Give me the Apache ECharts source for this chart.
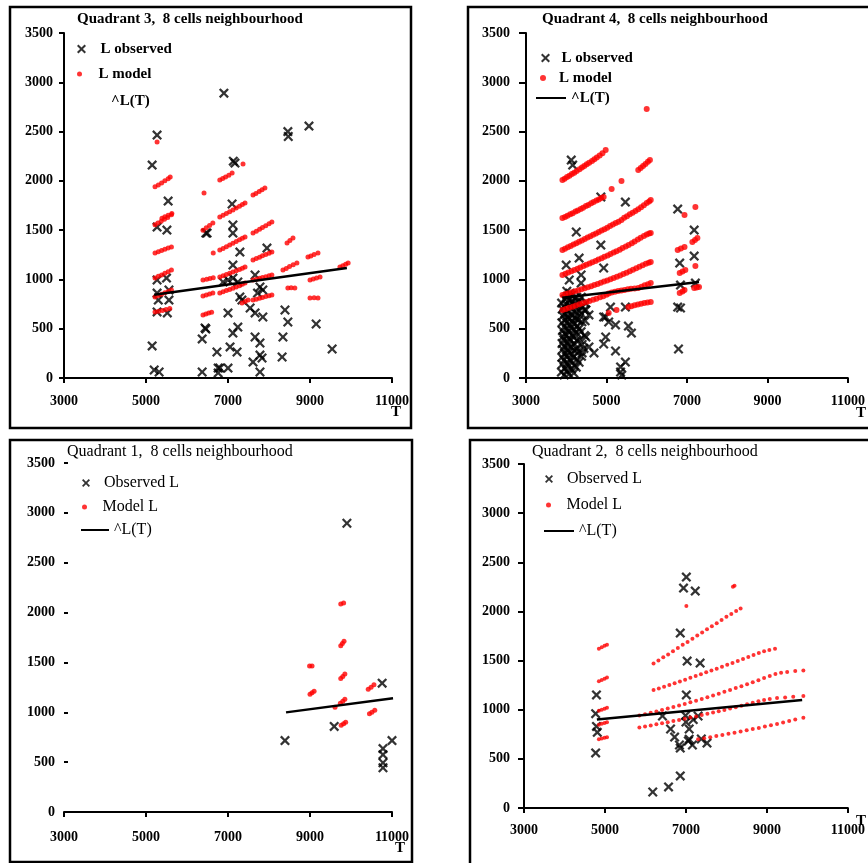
<!DOCTYPE html>
<html><head><meta charset="utf-8">
<script src="https://cdn.jsdelivr.net/npm/echarts/dist/echarts.min.js"></script>
<style>html,body{margin:0;padding:0;background:#fff}#c{width:868px;height:863px}</style>
</head><body><div id="c"></div>
<script>
// ---------------- DATA ----------------
const xTicks = [3000, 5000, 7000, 9000, 11000];
const yTicks = [0, 500, 1000, 1500, 2000, 2500, 3000, 3500];

// Quadrant 3 (top-left)
const q3Observed = [[5270,2464],[5150,2160],[5540,1795],[6900,2890],[8460,2500],[8470,2450],[8975,2556],[7130,2200],[7170,2180],[7100,1765],[5270,1531],[5510,1501],[6460,1470],[5270,994],[5500,1014],[5270,862],[5560,893],[5300,791],[5560,791],[5270,670],[5520,660],[5150,325],[5200,81],[5320,61],[6370,61],[6460,497],[6370,396],[6730,264],[6760,101],[7120,1552],[6490,1470],[7120,1470],[7290,1278],[7950,1318],[7120,1146],[7660,1045],[6880,974],[7000,994],[7120,1014],[7240,974],[7780,923],[7850,893],[7720,862],[7290,822],[7340,791],[7540,710],[7000,660],[7660,660],[7850,619],[8390,690],[8460,568],[9150,548],[6440,507],[7240,517],[7120,456],[7660,416],[7780,355],[8340,416],[7050,315],[7220,264],[9540,294],[7780,233],[7610,162],[7830,203],[8320,213],[6800,101],[7000,101],[6760,51],[7780,61]];
const q3Model = [[5270,2393],
[5220,1940],[5300,1958],[5380,1978],[5460,2000],[5540,2022],[5590,2040],
[5390,1620],[5460,1636],[5540,1652],[5630,1670],
[5220,1555],[5290,1572],[5370,1590],[5450,1610],[5530,1628],[5620,1655],
[5220,1268],[5300,1281],[5380,1293],[5460,1305],[5540,1318],[5620,1330],
[5220,1015],[5300,1031],[5380,1046],[5460,1062],[5540,1078],[5620,1095],
[5220,822],[5300,836],[5380,850],[5460,864],[5540,878],[5620,893],
[5220,670],[5310,678],[5400,686],[5490,695],[5580,706],
[6415,1876],
[6800,2008],[6870,2025],[6940,2040],[7020,2058],[7100,2079],[7366,2170],
[6390,1500],[6470,1524],[6550,1548],[6630,1572],
[6640,1268],
[6390,994],[6480,1002],[6560,1010],[6640,1016],
[6390,832],[6470,843],[6550,853],[6630,863],
[6390,640],[6460,650],[6530,660],[6600,668],
[6800,1633],[6880,1650],[6960,1668],[7040,1686],[7120,1705],[7200,1724],[7280,1742],[7350,1760],[7415,1775],
[6800,1298],[6880,1315],[6960,1332],[7040,1350],[7120,1368],[7200,1385],[7280,1402],[7350,1418],[7415,1430],
[6800,1024],[6880,1037],[6960,1050],[7040,1062],[7120,1075],[7200,1088],[7280,1100],[7350,1114],[7415,1126],
[6800,862],[6880,874],[6960,887],[7040,899],[7120,911],[7200,923],[7280,936],[7350,950],[7415,963],
[7340,760],[7420,776],[7490,791],
[7610,1856],[7680,1873],[7760,1892],[7830,1910],[7900,1927],
[7610,1470],[7690,1490],[7770,1508],[7840,1527],[7920,1545],[8000,1564],[8070,1582],
[7610,1197],[7690,1212],[7770,1226],[7840,1240],[7920,1252],[8000,1266],[8070,1278],
[7610,994],[7690,1003],[7770,1012],[7840,1020],[7920,1028],[8000,1037],[8070,1045],
[7610,791],[7690,800],[7770,808],[7840,817],[7920,826],[8000,834],[8070,842],
[8440,1369],[8510,1394],[8585,1420],
[8340,1095],[8420,1112],[8500,1130],[8590,1148],[8680,1166],
[8460,913],[8540,915],[8630,913],
[8950,1227],[9020,1238],[9100,1252],[9195,1268],
[9000,994],[9080,1004],[9160,1014],[9245,1024],
[9000,811],[9100,813],[9195,811],
[9730,1126],[9800,1140],[9870,1153],[9930,1166]];
const q3Fit = [[5200,845],[9900,1115]];

// Quadrant 4 (top-right)
const q4Observed = [[4125,2211],[4160,2160],[4860,1836],[5470,1785],[6770,1714],[4250,1481],[4860,1349],[4000,1146],[4320,1217],[4930,1116],[4075,994],[4370,1045],[4370,963],[5470,720],[5100,720],[4980,619],[5055,568],[5225,538],[5545,527],[5620,456],[4980,416],[4490,416],[4930,345],[4565,315],[4690,254],[5225,274],[4395,254],[5470,162],[5350,112],[5350,61],[5380,30],[7180,1501],[6820,1166],[7180,1237],[6840,943],[7210,963],[6770,720],[6840,710],[6790,294],[4490,690],[4565,640],[4930,619],
[3880,60],[3900,140],[3890,210],[3910,290],[3895,350],[3920,420],[3905,480],[3890,560],[3915,630],[3900,700],[3885,760],
[3950,30],[3960,100],[3945,180],[3970,250],[3955,320],[3940,390],[3965,450],[3950,520],[3975,590],[3960,650],[3945,720],[3970,800],
[4010,70],[4020,150],[4000,220],[4030,290],[4015,360],[4005,430],[4025,500],[4010,560],[4035,620],[4020,690],[4000,750],[4030,830],[4015,880],
[4070,40],[4060,120],[4085,190],[4070,260],[4055,330],[4080,400],[4065,470],[4090,540],[4075,600],[4060,660],[4085,730],[4070,790],[4090,860],
[4130,90],[4120,170],[4145,240],[4130,310],[4115,380],[4140,440],[4125,510],[4150,580],[4135,640],[4120,710],[4145,770],[4130,840],
[4190,50],[4200,130],[4180,210],[4205,280],[4190,350],[4175,420],[4200,490],[4185,550],[4210,610],[4195,680],[4180,750],[4205,810],
[4250,110],[4265,190],[4245,300],[4260,380],[4250,460],[4270,530],[4255,600],[4245,670],[4270,740],[4260,820],
[4320,160],[4310,270],[4335,390],[4320,500],[4305,590],[4330,680],[4315,780],
[4380,220],[4395,340],[4370,470],[4390,570],[4380,650],[4400,720],[4375,820],
[4440,300],[4455,430],[4470,580],[4450,690],[4480,760]];
const q4Model = [
[3905,2008],[3960,2022],[4020,2038],[4080,2052],[4140,2070],[4200,2083],[4260,2101],[4330,2118],[4390,2135],[4450,2150],[4510,2168],[4570,2184],[4640,2201],[4700,2220],[4760,2238],[4830,2256],[4900,2281],[4980,2312],
[3905,1623],[3970,1633],[4030,1647],[4100,1660],[4160,1672],[4230,1688],[4290,1700],[4360,1715],[4420,1728],[4490,1744],[4550,1756],[4620,1772],[4680,1785],[4750,1800],[4810,1812],[4870,1825],[4930,1836],[5128,1917],[5373,1998],[5790,2110],[5850,2130],[5910,2150],[5970,2172],[6030,2195],[6080,2211],[6000,2728],
[3905,1298],[3970,1311],[4040,1326],[4110,1339],[4180,1354],[4250,1368],[4320,1382],[4390,1396],[4460,1410],[4530,1425],[4600,1438],[4670,1452],[4740,1467],[4810,1481],[4880,1496],[4950,1510],[5020,1525],[5090,1541],[5160,1556],[5230,1572],[5300,1586],[5373,1602],[5440,1625],[5510,1642],[5580,1660],[5650,1676],[5720,1694],[5790,1712],[5860,1732],[5930,1752],[6000,1775],[6060,1790],[6100,1805],
[3905,1045],[3980,1058],[4050,1070],[4130,1083],[4200,1096],[4280,1109],[4350,1122],[4430,1135],[4500,1148],[4580,1161],[4650,1174],[4730,1188],[4800,1201],[4880,1215],[4950,1229],[5030,1243],[5100,1257],[5180,1272],[5250,1287],[5330,1302],[5400,1318],[5480,1334],[5550,1350],[5630,1368],[5700,1385],[5780,1404],[5850,1422],[5930,1440],[6000,1456],[6060,1466],[6100,1470],
[3905,842],[3980,851],[4060,861],[4140,870],[4220,880],[4300,890],[4380,900],[4460,910],[4540,921],[4620,932],[4700,943],[4780,954],[4860,966],[4940,978],[5020,990],[5100,1002],[5180,1015],[5260,1028],[5340,1041],[5420,1055],[5500,1069],[5580,1083],[5660,1098],[5740,1113],[5820,1128],[5900,1144],[5980,1160],[6050,1170],[6100,1177],
[3905,690],[3990,701],[4070,712],[4160,724],[4240,735],[4330,747],[4410,758],[4500,770],[4580,781],[4670,794],[4750,805],[4840,818],[4920,830],[5000,845],[5055,858],[5130,868],[5210,875],[5290,882],[5370,888],[5450,894],[5530,900],[5610,905],[5700,909],[5790,913],[5870,926],[5950,940],[6030,952],[6100,963],
[5055,660],[5250,690],[5545,720],[5620,728],[5700,737],[5780,745],[5860,752],[5940,760],[6020,766],[6100,771],
[6940,1653],[7210,1734],
[6770,1298],[6850,1313],[6940,1329],[7135,1379],[7200,1400],[7260,1420],
[6820,1065],[6890,1080],[6960,1095],[7210,1136],
[6820,862],[6890,878],[6940,893],[7180,913],[7240,918],[7300,923]];
const q4Fit = [[3900,815],[7300,975]];

// Quadrant 1 (bottom-left)
const q1Observed = [[9900,2896],[10760,1292],[9590,858],[8390,716],[11000,716],[10780,636],[10780,575],[10780,494],[10780,444]];
const q1Model = [[9750,2085],[9820,2095],[9750,1668],[9790,1690],[9830,1712],[8990,1463],[9050,1463],[9750,1340],[9800,1360],[9850,1385],[9000,1180],[9050,1195],[9100,1210],[10420,1231],[10490,1250],[10560,1275],[9610,1050],[9740,1090],[9800,1110],[9850,1130],[10450,985],[10510,1000],[10580,1020],[9760,870],[9820,885],[9870,900]];
const q1Fit = [[8415,999],[11025,1140]];

// Quadrant 2 (bottom-right)
const q2Observed = [[7010,2350],[6940,2238],[7230,2207],[6860,1780],[7030,1495],[7350,1475],[7010,1150],[4790,1150],[4770,960],[4790,830],[4810,770],[4770,560],[6420,936],[6620,804],[6720,722],[6840,641],[7060,682],[7160,641],[7380,702],[7520,661],[7300,936],[7080,804],[6860,610],[6860,326],[6570,214],[6180,163],[7000,875],[7180,900],[6990,940],[7080,700]];
const q2Model = [
[4850,1620],[4920,1635],[4990,1650],[5050,1662],
[4850,1290],[4920,1303],[4990,1316],[5050,1328],
[4850,990],[4920,1000],[4990,1010],[5050,1020],
[4850,848],[4920,856],[4990,864],[5050,872],
[4850,700],[4920,707],[4990,714],[5050,720],
[7010,2055],[8160,2250],[8200,2262],
[6200,1470],[6320,1500],[6440,1533],[6560,1562],[6680,1595],[6800,1627],[6920,1660],[7040,1690],[7160,1722],[7280,1755],[7400,1786],[7520,1818],[7640,1850],[7760,1880],[7880,1913],[8000,1945],[8120,1975],[8240,2005],[8350,2030],
[6200,1200],[6330,1217],[6460,1234],[6590,1252],[6720,1270],[6850,1288],[6980,1306],[7110,1324],[7240,1343],[7370,1361],[7500,1380],[7630,1398],[7760,1418],[7890,1437],[8020,1457],[8150,1476],[8280,1496],[8410,1516],[8540,1536],[8670,1556],[8800,1576],[8930,1596],[9060,1608],[9200,1620],
[5850,940],[5990,954],[6130,968],[6270,982],[6410,997],[6550,1012],[6690,1027],[6830,1043],[6970,1059],[7110,1075],[7250,1092],[7390,1109],[7530,1127],[7670,1145],[7810,1163],[7950,1182],[8090,1201],[8230,1220],[8370,1240],[8510,1260],[8650,1280],[8790,1301],[8930,1322],[9070,1343],[9210,1364],[9350,1375],[9500,1384],[9700,1393],[9900,1400],
[5850,820],[5990,830],[6130,840],[6270,851],[6410,862],[6550,873],[6690,884],[6830,896],[6970,908],[7110,920],[7250,932],[7390,945],[7530,958],[7670,971],[7810,984],[7950,998],[8090,1012],[8230,1026],[8370,1040],[8510,1055],[8650,1070],[8790,1085],[8930,1100],[9070,1110],[9250,1118],[9450,1125],[9650,1132],[9900,1140],
[7300,700],[7450,710],[7600,721],[7750,732],[7900,743],[8050,755],[8200,766],[8350,778],[8500,790],[8650,803],[8800,815],[8950,828],[9100,841],[9250,855],[9400,870],[9550,885],[9700,900],[9900,918]];
const q2Fit = [[4800,900],[9870,1100]];

const titles = ['Quadrant 3,  8 cells neighbourhood','Quadrant 4,  8 cells neighbourhood','Quadrant 1,  8 cells neighbourhood','Quadrant 2,  8 cells neighbourhood'];
const obsNames = ['L observed','L observed','Observed L','Observed L'];
const modNames = ['L model','L model','Model L','Model L'];
const fitName = '^L(T)';
const axisName = 'T';

// ---------------- LAYOUT ----------------
const FONT = '"Liberation Serif","Times New Roman",serif';
const CROSS = 'path://M0,1.6L1.6,0L5,3.4L8.4,0L10,1.6L6.6,5L10,8.4L8.4,10L5,6.6L1.6,10L0,8.4L3.4,5Z';
const panels = [
  {grid:{left:64,top:33,width:328,height:345}, frame:[10,7,401,421], title:[77,12], tw:'bold', tf:15,
   yShow:true, yMargin:11, yTick:5, xMargin:16, obs:q3Observed, mod:q3Model, fit:q3Fit, modSym:'circle', modSize:5,
   leg:[[77,49,28,9],[77,74,28,5],[77,101,28,14]], legFont:[15,'bold'], hideLegLine:true, T:[396,412]},
  {grid:{left:526,top:33,width:327,height:345}, frame:[468,7,430,421], title:[542,12], tw:'bold', tf:15,
   yShow:true, yMargin:16, yTick:7, xMargin:16, obs:q4Observed, mod:q4Model, fit:q4Fit, modSym:'circle', modSize:6,
   leg:[[541,58,22,9],[540,78,22,6],[535,98,30,14]], legFont:[15,'bold'], hideLegLine:false, T:[861,413]},
  {grid:{left:64,top:463,width:328,height:349}, frame:[10,440,402,422], title:[67,444], tw:'normal', tf:16,
   yShow:false, yMargin:9, yTick:4, xMargin:18, obs:q1Observed, mod:q1Model, fit:q1Fit, modSym:'circle', modSize:5,
   leg:[[82,483,26,8],[82,507,26,5],[80,530,28,14]], legFont:[16,'normal'], hideLegLine:false, T:[400,848]},
  {grid:{left:524,top:464,width:327,height:344}, frame:[470,440,430,440], title:[532,444], tw:'normal', tf:16,
   yShow:true, yMargin:14, yTick:6, xMargin:15, obs:q2Observed, mod:q2Model, fit:q2Fit, modSym:'circle', modSize:4,
   leg:[[545,479,26,8],[546,505,26,5],[543,531,30,14]], legFont:[16,'normal'], hideLegLine:false, T:[861,821]}
];

const grids=[], xAxes=[], yAxes=[], series=[], legends=[], titleArr=[], graphics=[];
panels.forEach((p,i)=>{
  grids.push(Object.assign({containLabel:false}, p.grid));
  const lbl = {color:'#000', fontFamily:FONT, fontSize:14, fontWeight:'bold', formatter:(v)=>String(v)};
  xAxes.push({gridIndex:i, type:'value', min:xTicks[0], max:xTicks[xTicks.length-1], interval:xTicks[1]-xTicks[0],
    axisLine:{show:true, onZero:false, lineStyle:{color:'#000', width:2}},
    axisTick:{show:true, length:5, lineStyle:{color:'#000', width:2}},
    axisLabel:Object.assign({margin:p.xMargin}, lbl), splitLine:{show:false}});
  yAxes.push({gridIndex:i, type:'value', min:yTicks[0], max:yTicks[yTicks.length-1], interval:yTicks[1]-yTicks[0],
    axisLine:{show:p.yShow, onZero:false, lineStyle:{color:'#000', width:2}},
    axisTick:{show:true, inside:!p.yShow, length:p.yTick, lineStyle:{color:'#000', width:2}},
    axisLabel:Object.assign({margin:p.yMargin}, lbl), splitLine:{show:false}});
  series.push({name:obsNames[i], type:'scatter', xAxisIndex:i, yAxisIndex:i, data:p.obs, symbol:CROSS, symbolSize:10,
    itemStyle:{color:'#000'}, z:2});
  series.push({name:modNames[i], type:'scatter', xAxisIndex:i, yAxisIndex:i, data:p.mod, symbol:p.modSym, symbolSize:p.modSize,
    itemStyle:{color:'#ff0000'}, z:3});
  series.push({name:fitName, type:'line', xAxisIndex:i, yAxisIndex:i, data:p.fit, symbol:'none', showSymbol:false,
    itemStyle:{color:'#000'}, lineStyle:{color:'#000', width:2.5}, z:4});
  titleArr.push({text:titles[i], left:p.title[0], top:p.title[1], padding:0,
    textStyle:{fontFamily:FONT, fontSize:p.tf, fontWeight:p.tw, color:'#000'}});
  const names=[obsNames[i], modNames[i], fitName];
  names.forEach((n,k)=>{
    const [l,cy,w,h]=p.leg[k];
    const fs=p.legFont[0];
    let d = n;
    if(k===2) d = p.hideLegLine
      ? {name:n, itemStyle:{opacity:0}, lineStyle:{opacity:0, color:'rgba(0,0,0,0)'}}
      : {name:n, itemStyle:{opacity:0}, lineStyle:{color:'#000', width:2}};
    legends.push({data:[d], left:l, top:cy-Math.max(h,fs)/2, itemWidth:w, itemHeight:h, padding:0, itemGap:0,
      selectedMode:false, textStyle:{fontFamily:FONT, fontSize:fs, fontWeight:p.legFont[1], color:'#000'}});
  });
  const [fx,fy,fw,fh]=p.frame;
  graphics.push({type:'rect', shape:{x:fx,y:fy,width:fw,height:fh}, style:{fill:'none', stroke:'#000', lineWidth:2.5}, silent:true, z:0});
  graphics.push({type:'text', x:p.T[0], y:p.T[1], style:{text:axisName, fill:'#000', font:'bold 15px '+FONT, textAlign:'center', textVerticalAlign:'middle'}});
});

const chart = echarts.init(document.getElementById('c'), null, {renderer:'canvas'});
chart.setOption({
  animation:false, backgroundColor:'#fff',
  title:titleArr, legend:legends, grid:grids, xAxis:xAxes, yAxis:yAxes, series:series, graphic:graphics
});
</script></body></html>
